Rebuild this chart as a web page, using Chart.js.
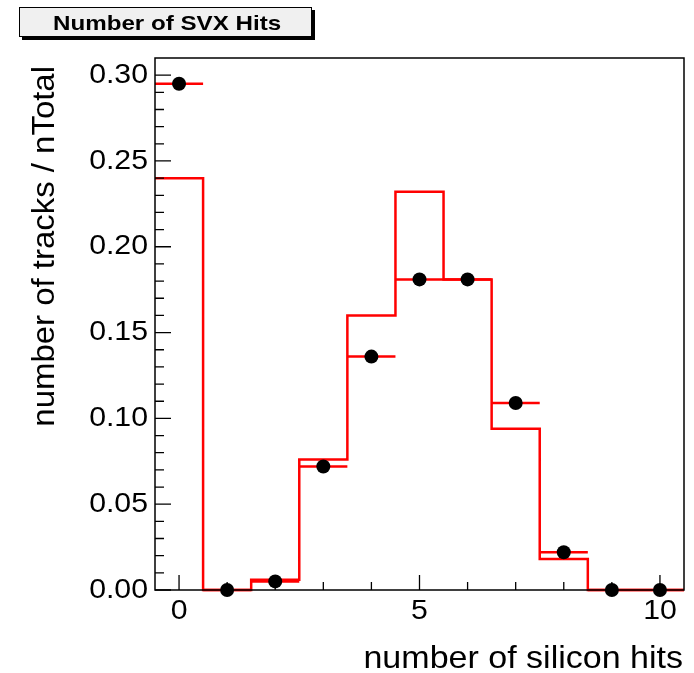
<!DOCTYPE html>
<html>
<head>
<meta charset="utf-8">
<script src="https://cdn.jsdelivr.net/npm/chart.js@4/dist/chart.umd.min.js"></script>
<style>
  html, body { margin: 0; padding: 0; background: #fff; }
  #wrap { width: 694px; height: 673px; }
</style>
</head>
<body>
<div id="wrap"><canvas id="chart" width="694" height="673"></canvas></div>
<script>
// silicon hit multiplicity, fraction of tracks per bin
const binCenters = [0, 1, 2, 3, 4, 5, 6, 7, 8, 9, 10]
const mcFraction = [0.240, 0, 0.006, 0.076, 0.160, 0.232, 0.181, 0.094, 0.018, 0, 0]
const dataFraction = [0.295, 0, 0.005, 0.072, 0.136, 0.181, 0.181, 0.109, 0.022, 0, 0]

const xTickValues = [0, 1, 2, 3, 4, 5, 6, 7, 8, 9, 10]
const xTickLabels = ['0', '', '', '', '', '5', '', '', '', '', '10']
const yTickValues = [0, 0.01, 0.02, 0.03, 0.04, 0.05, 0.06, 0.07, 0.08, 0.09, 0.10,
  0.11, 0.12, 0.13, 0.14, 0.15, 0.16, 0.17, 0.18, 0.19, 0.20,
  0.21, 0.22, 0.23, 0.24, 0.25, 0.26, 0.27, 0.28, 0.29, 0.30]
const yTickLabels = yTickValues.map(v => Math.round(v * 100) % 5 === 0 ? v.toFixed(2) : '')

const titleText = 'Number of SVX Hits'
const xTitle = 'number of silicon hits'
const yTitle = 'number of tracks / nTotal'

// step outline: each bin contributes its two edges, joining bins gives the verticals
var histPoints = []
binCenters.forEach((c, i) => {
  histPoints.push({ x: c - 0.5, y: mcFraction[i] })
  histPoints.push({ x: c + 0.5, y: mcFraction[i] })
})

// horizontal bin-width bars through each data point
var barPoints = []
binCenters.forEach((c, i) => {
  barPoints.push({ x: c - 0.5, y: dataFraction[i] })
  barPoints.push({ x: c + 0.5, y: dataFraction[i] })
  barPoints.push({ x: c + 0.5, y: null })
})

var dotPoints = binCenters.map((c, i) => ({ x: c, y: dataFraction[i] }))

const FONT = '"Liberation Sans", Arial, Helvetica, sans-serif'

// text is drawn a little wider than the plain font
function drawText(ctx, text, x, y, font, align, baseline, angle, sx) {
  ctx.save()
  ctx.translate(x, y)
  if (angle) ctx.rotate(angle)
  ctx.scale(sx || 1.08, 1)
  ctx.font = font
  ctx.fillStyle = '#000'
  ctx.textAlign = align
  ctx.textBaseline = baseline
  ctx.fillText(text, 0, 0)
  ctx.restore()
}

// frame, inward ticks, labels and the title box
const rootFrame = {
  id: 'rootFrame',
  afterDraw(chart) {
    const ctx = chart.ctx
    const a = chart.chartArea
    const xs = chart.scales.x
    const ys = chart.scales.y

    ctx.save()
    ctx.strokeStyle = '#000'
    ctx.lineWidth = 1.5
    ctx.strokeRect(a.left, a.top, a.right - a.left, a.bottom - a.top)

    ctx.lineWidth = 1.3
    ctx.beginPath()
    yTickValues.forEach((v, i) => {
      const py = ys.getPixelForValue(v)
      const len = yTickLabels[i] ? 16 : 9
      ctx.moveTo(a.left, py)
      ctx.lineTo(a.left + len, py)
    })
    xTickValues.forEach((v, i) => {
      const px = xs.getPixelForValue(v)
      const len = xTickLabels[i] ? 15 : 8
      ctx.moveTo(px, a.bottom)
      ctx.lineTo(px, a.bottom - len)
    })
    ctx.stroke()
    ctx.restore()

    const tickFont = '28px ' + FONT
    yTickValues.forEach((v, i) => {
      if (yTickLabels[i]) drawText(ctx, yTickLabels[i], a.left - 7, ys.getPixelForValue(v), tickFont, 'right', 'middle')
    })
    xTickValues.forEach((v, i) => {
      if (xTickLabels[i]) drawText(ctx, xTickLabels[i], xs.getPixelForValue(v), a.bottom + 29, tickFont, 'center', 'alphabetic')
    })

    drawText(ctx, xTitle, a.right - 1, 668, '31.5px ' + FONT, 'right', 'alphabetic')
    drawText(ctx, yTitle, 54, 66, '30.5px ' + FONT, 'right', 'alphabetic', -Math.PI / 2)

    // title pave with drop shadow
    ctx.save()
    ctx.fillStyle = '#000'
    ctx.fillRect(22, 10, 293, 30)
    ctx.fillStyle = '#f0f0f0'
    ctx.fillRect(19, 7, 293, 30)
    ctx.strokeStyle = '#000'
    ctx.lineWidth = 1
    ctx.strokeRect(19.5, 7.5, 292, 29)
    ctx.restore()
    drawText(ctx, titleText, 53, 29.5, 'bold 21px ' + FONT, 'left', 'alphabetic', 0, 1.15)
  }
}

var ctx = document.getElementById('chart')
var myChart = new Chart(ctx, {
  type: 'scatter',
  data: {
    datasets: [
      {
        type: 'scatter',
        label: 'data',
        data: dotPoints,
        pointRadius: 7,
        pointBackgroundColor: '#000',
        pointBorderWidth: 0,
        clip: false,
        order: 0
      },
      {
        type: 'line',
        label: 'bin width',
        data: barPoints,
        borderColor: '#ff0000',
        borderWidth: 2.5,
        pointRadius: 0,
        spanGaps: false,
        fill: false,
        clip: false,
        order: 1
      },
      {
        type: 'line',
        label: 'simulation',
        data: histPoints,
        borderColor: '#ff0000',
        borderWidth: 2.5,
        pointRadius: 0,
        fill: false,
        clip: false,
        order: 2
      }
    ]
  },
  options: {
    responsive: false,
    animation: false,
    events: [],
    layout: { padding: { left: 155, top: 58, right: 10, bottom: 83 } },
    plugins: {
      legend: { display: false },
      tooltip: { enabled: false },
      title: { display: false }
    },
    scales: {
      x: {
        type: 'linear',
        min: -0.5,
        max: 10.5,
        grid: { display: false },
        border: { display: false },
        ticks: { display: false },
        afterFit: s => { s.height = 0 }
      },
      y: {
        type: 'linear',
        min: 0,
        max: 0.31,
        grid: { display: false },
        border: { display: false },
        ticks: { display: false },
        afterFit: s => { s.width = 0 }
      }
    }
  },
  plugins: [rootFrame]
});
</script>
</body>
</html>
